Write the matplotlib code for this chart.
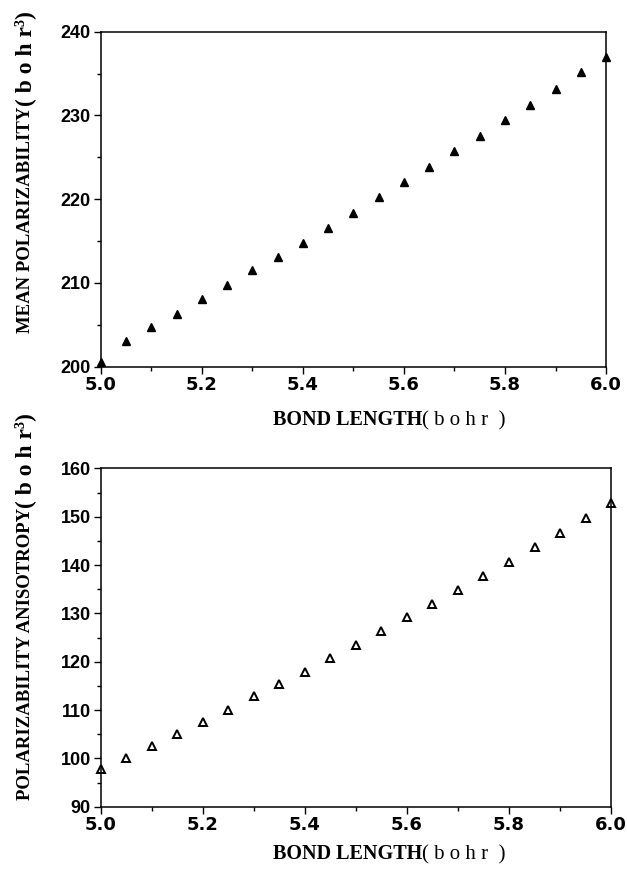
import matplotlib

matplotlib.use("Agg")
import matplotlib.pyplot as plt
from matplotlib.ticker import MultipleLocator, FixedLocator, FixedFormatter

# ── Data ─────────────────────────────────────────────────────────────
bond_length = [5.00, 5.05, 5.10, 5.15, 5.20, 5.25, 5.30, 5.35, 5.40, 5.45, 5.50,
               5.55, 5.60, 5.65, 5.70, 5.75, 5.80, 5.85, 5.90, 5.95, 6.00]
mean_polarizability = [200.6, 203.1, 204.7, 206.3, 208.1, 209.7, 211.5, 213.1,
                       214.8, 216.6, 218.3, 220.3, 222.0, 223.9, 225.8, 227.5,
                       229.4, 231.3, 233.2, 235.2, 237.0]
anisotropy = [97.7, 100.0, 102.6, 105.0, 107.6, 110.1, 112.9, 115.4, 117.9,
              120.7, 123.5, 126.4, 129.2, 131.9, 134.8, 137.8, 140.6, 143.7,
              146.6, 149.7, 152.8]

x_ticks = [5.0, 5.2, 5.4, 5.6, 5.8, 6.0]
x_tick_labels = ["5.0", "5.2", "5.4", "5.6", "5.8", "6.0"]

SANS = "Liberation Sans"
SERIF = "Liberation Serif"

fig = plt.figure(figsize=(6.27, 8.69), dpi=100)
ax_top = fig.add_axes([0.1606, 0.578, 0.806, 0.3855])
ax_bot = fig.add_axes([0.1606, 0.0717, 0.814, 0.3893])


def style_axes(ax, ylim, ymajor):
    ax.set_xlim(5.0, 6.0)
    ax.set_ylim(*ylim)
    ax.xaxis.set_major_locator(FixedLocator(x_ticks))
    ax.xaxis.set_major_formatter(FixedFormatter(x_tick_labels))
    ax.xaxis.set_minor_locator(MultipleLocator(0.1))
    ax.yaxis.set_major_locator(MultipleLocator(ymajor))
    ax.yaxis.set_minor_locator(MultipleLocator(ymajor / 2))
    ax.tick_params(which="major", direction="out", length=5, width=1, pad=2)
    ax.tick_params(which="minor", direction="out", length=3, width=1)
    ax.tick_params(top=False, right=False, which="both")
    for lab in ax.get_yticklabels():
        lab.set_fontfamily(SANS)
        lab.set_fontweight("bold")
        lab.set_fontsize(13)
    for lab in ax.get_xticklabels():
        lab.set_fontfamily("DejaVu Sans")
        lab.set_fontweight("bold")
        lab.set_fontsize(13)
    for sp in ax.spines.values():
        sp.set_linewidth(1.1)


# ── Top panel: mean polarizability ───────────────────────────────────
ax_top.plot(bond_length, mean_polarizability, linestyle="none", marker="^",
            markersize=6, color="black", clip_on=False)
style_axes(ax_top, (200, 240), 10)

# ── Bottom panel: anisotropy ─────────────────────────────────────────
ax_bot.plot(bond_length, anisotropy, linestyle="none", marker="^",
            markersize=5.5, markerfacecolor="white", markeredgecolor="black",
            markeredgewidth=1.4, clip_on=False)
style_axes(ax_bot, (90, 160), 10)


# ── Axis titles (mixed sizes, so built from two chained texts) ───────
def xlabel(y):
    t1 = fig.text(273 / 627, y, "BOND LENGTH", family=SERIF, weight="bold",
                  fontsize=14.5, ha="left", va="baseline")
    plt.annotate("( b o h r  )", xy=(1, 0), xycoords=t1, family=SERIF,
                 fontsize=15, ha="left", va="bottom",
                 annotation_clip=False)


def ylabel(x, y, head):
    t1 = fig.text(x, y, head, family=SERIF, weight="bold", fontsize=13.5,
                  rotation=90, ha="center", va="bottom")
    plt.annotate("( b o h r³)", xy=(0.5, 1), xycoords=t1, family=SERIF,
                 weight="bold", fontsize=17, rotation=90, ha="center",
                 va="bottom", annotation_clip=False)


xlabel(1 - 425 / 869)
xlabel(1 - 859 / 869)
ylabel(0.04, 1 - 333 / 869, "MEAN POLARIZABILITY")
ylabel(0.04, 1 - 800 / 869, "POLARIZABILITY ANISOTROPY")

fig.savefig("out.png", dpi=100)
